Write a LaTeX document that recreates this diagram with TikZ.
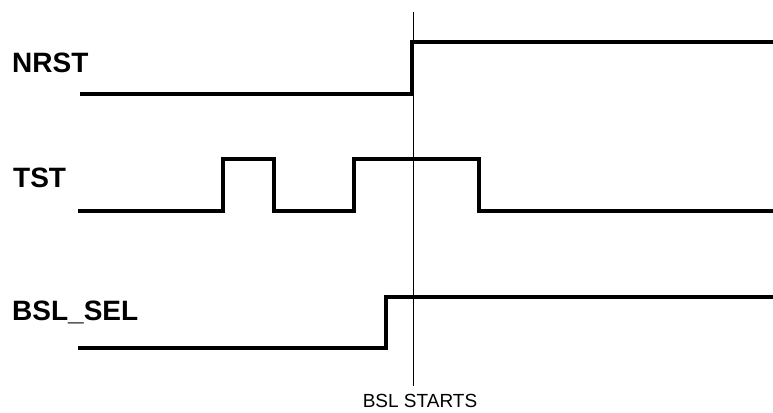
\documentclass[tikz,border=0pt]{standalone}
\usepackage{fontspec}
\setmainfont{Liberation Sans}
\begin{document}
\begin{tikzpicture}[x=1pt,y=-1pt,
  signal/.style={line width=3.5pt,line join=miter,line cap=butt},
  marker/.style={line width=1pt},
  siglabel/.style={anchor=base west,inner sep=0pt,font=\fontsize{28}{30}\selectfont\bfseries},
  note/.style={anchor=base,inner sep=0pt,font=\fontsize{19}{22}\selectfont}]
\useasboundingbox (0,0) rectangle (773,412);
% labels
\node[siglabel] (nrst) at (12,73) {NRST};
\node[siglabel] (tst) at (13,187) {TST};
\node[siglabel] (bsl) at (12,320) {BSL\_SEL};
\node[note] (starts) at (420,407) {BSL STARTS};
% marker line
\coordinate (mtop) at (413,12);
\coordinate (mbot) at (413,386);
\draw[marker] (mtop) -- (mbot);
% NRST
\coordinate (n0) at (80,94);
\coordinate (n1) at (412,94);
\coordinate (n2) at (412,42);
\coordinate (n3) at (773,42);
\draw[signal] (n0) -- (n1) -- (n2) -- (n3);
% TST
\coordinate (t0) at (78,211);
\coordinate (t1) at (223,211);
\coordinate (t2) at (223,159);
\coordinate (t3) at (274,159);
\coordinate (t4) at (274,211);
\coordinate (t5) at (354,211);
\coordinate (t6) at (354,159);
\coordinate (t7) at (479,159);
\coordinate (t8) at (479,211);
\coordinate (t9) at (773,211);
\draw[signal] (t0) -- (t1) -- (t2) -- (t3) -- (t4) -- (t5) -- (t6) -- (t7) -- (t8) -- (t9);
% BSL_SEL
\coordinate (b0) at (78,348);
\coordinate (b1) at (386,348);
\coordinate (b2) at (386,297);
\coordinate (b3) at (773,297);
\draw[signal] (b0) -- (b1) -- (b2) -- (b3);
\end{tikzpicture}
\end{document}
